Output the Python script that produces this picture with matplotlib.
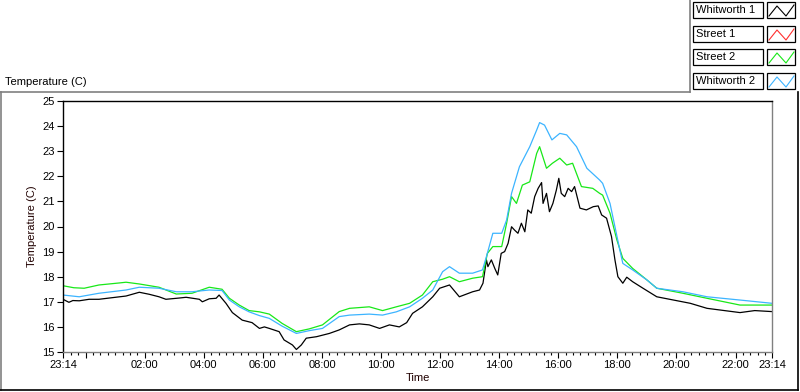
import matplotlib
matplotlib.use("Agg")
import matplotlib.pyplot as plt
from matplotlib.lines import Line2D
from matplotlib.patches import Rectangle

plt.rcParams['font.family'] = ['Liberation Sans', 'DejaVu Sans']

W, H = 800, 392

# ---- data: time in minutes after 23:14, temperature in C ----
green_t = [0, 22, 43, 73, 114, 128, 155, 195, 230, 262, 297, 323, 338, 358, 378, 399,
           419, 445, 474, 500, 527, 561, 582, 622, 649, 677, 704, 730, 751, 771, 785,
           805, 832, 852, 862, 873, 891, 901, 911, 921, 933, 948, 962, 968, 982, 994,
           1009, 1023, 1035, 1053, 1076, 1090, 1096, 1111, 1125, 1137, 1157, 1186, 1206,
           1259, 1308, 1375, 1440]
green_v = [17.64, 17.56, 17.54, 17.67, 17.75, 17.78, 17.71, 17.58, 17.31, 17.34, 17.58,
           17.5, 17.14, 16.87, 16.65, 16.6, 16.51, 16.14, 15.81, 15.92, 16.08, 16.61,
           16.74, 16.8, 16.65, 16.8, 16.94, 17.27, 17.8, 17.9, 18.0, 17.8, 17.94, 18.0,
           18.93, 19.2, 19.2, 20.13, 21.19, 20.92, 21.65, 21.78, 22.91, 23.18, 22.32,
           22.52, 22.72, 22.45, 22.52, 21.59, 21.52, 21.32, 21.25, 20.53, 19.46, 18.73,
           18.33, 17.87, 17.54, 17.34, 17.14, 16.87, 16.87]

blue_t = [0, 33, 73, 128, 155, 195, 230, 262, 297, 323, 338, 358, 378, 399, 419, 445,
          474, 500, 527, 561, 582, 622, 649, 677, 704, 730, 751, 771, 785, 805, 832, 852,
          860, 873, 891, 901, 911, 927, 948, 962, 968, 978, 993, 1009, 1023, 1043, 1064,
          1090, 1096, 1111, 1121, 1131, 1137, 1157, 1186, 1206, 1259, 1308, 1375, 1440]
blue_v = [17.27, 17.2, 17.34, 17.47, 17.58, 17.54, 17.4, 17.4, 17.47, 17.45, 17.07, 16.8,
          16.6, 16.45, 16.34, 16.03, 15.74, 15.85, 15.94, 16.41, 16.47, 16.51, 16.47,
          16.6, 16.8, 17.14, 17.47, 18.2, 18.4, 18.14, 18.14, 18.27, 18.8, 19.73, 19.73,
          20.26, 21.32, 22.38, 23.18, 23.84, 24.14, 24.04, 23.45, 23.71, 23.65, 23.18,
          22.32, 21.85, 21.72, 20.92, 19.99, 19.06, 18.53, 18.27, 17.87, 17.54, 17.4,
          17.2, 17.07, 16.94]

black_t = [0, 12, 20, 33, 53, 73, 94, 128, 155, 175,
           195, 209, 236, 250, 277, 283, 297, 311, 317, 331,
           344, 364, 384, 399, 409, 419, 439, 449, 466, 474,
           484, 494, 515, 541, 561, 582, 602, 622, 643, 663,
           683, 698, 710, 730, 751, 765, 785, 805, 832, 846,
           853, 860, 863, 870, 877, 883, 890, 897, 904, 911,
           917, 924, 931, 938, 944, 951, 958, 965, 972, 975,
           982, 988, 995, 1002, 1007, 1012, 1019, 1026, 1033, 1039,
           1050, 1063, 1077, 1087, 1094, 1104, 1114, 1121, 1127, 1137,
           1145, 1157, 1178, 1206, 1240, 1274, 1308, 1375, 1405, 1440]
black_v = [17.1, 16.98, 17.05, 17.04, 17.1, 17.1, 17.15, 17.23, 17.38, 17.3,
           17.2, 17.1, 17.15, 17.18, 17.1, 17.0, 17.12, 17.14, 17.27, 16.94,
           16.57, 16.27, 16.17, 15.94, 16.0, 15.94, 15.81, 15.48, 15.28, 15.1,
           15.28, 15.55, 15.61, 15.74, 15.88, 16.08, 16.12, 16.08, 15.94, 16.08,
           16.0, 16.17, 16.54, 16.8, 17.2, 17.54, 17.67, 17.2, 17.4, 17.47,
           17.74, 18.67, 18.4, 18.67, 18.33, 18.07, 18.93, 19.0, 19.33, 19.99,
           19.86, 19.73, 20.13, 19.79, 20.66, 20.53, 21.19, 21.52, 21.75, 20.92,
           21.32, 20.59, 20.92, 21.45, 21.92, 21.32, 21.19, 21.52, 21.39, 21.59,
           20.73, 20.66, 20.79, 20.82, 20.46, 20.33, 19.6, 18.67, 18.0, 17.74,
           17.98, 17.8, 17.54, 17.2, 17.07, 16.94, 16.74, 16.57, 16.65, 16.61]

series_names = ["Whitworth 1", "Street 1", "Street 2", "Whitworth 2"]
series_colors = ["#000000", "#ff3030", "#18e818", "#3cb4ff"]

yticks = [15, 16, 17, 18, 19, 20, 21, 22, 23, 24, 25]
xtick_pos = [0, 46, 166, 286, 406, 526, 646, 766, 886, 1006, 1126, 1246, 1366, 1440]
xtick_labels = ["23:14", "", "02:00", "04:00", "06:00", "08:00", "10:00", "12:00",
                "14:00", "16:00", "18:00", "20:00", "22:00", "23:14"]

fig = plt.figure(figsize=(W / 100, H / 100), dpi=100)


def fx(x):
    return x / W


def fy(y):
    return 1 - y / H


ax = fig.add_axes([fx(63), fy(352), fx(772) - fx(63), fy(101) - fy(352)])

ax.plot(black_t, black_v, color=series_colors[0], lw=0.9)
ax.plot(green_t, green_v, color=series_colors[2], lw=0.9)
ax.plot(blue_t, blue_v, color=series_colors[3], lw=0.9)

ax.set_xlim(0, 1440)
ax.set_ylim(15, 25)
ax.set_yticks(yticks)
ax.set_yticklabels([str(v) for v in yticks])
ax.set_xticks(xtick_pos)
ax.set_xticklabels(xtick_labels)
ax.set_xticks(list(range(16, 1440, 15)), minor=True)
ax.tick_params(axis='both', which='major', direction='out', length=4, width=0.8,
               labelsize=8, pad=2, colors='black')
ax.tick_params(axis='x', which='minor', direction='out', length=2.5, width=0.8)
ax.tick_params(axis='y', which='minor', left=False)

for s in ['left', 'top']:
    ax.spines[s].set_color('black')
    ax.spines[s].set_linewidth(1.0)
for s in ['right', 'bottom']:
    ax.spines[s].set_color('#808080')
    ax.spines[s].set_linewidth(1.0)

ax.set_ylabel("Temperature (C)", fontsize=8, color='#200000', labelpad=4)
ax.set_xlabel("Time", fontsize=8, color='#200000', labelpad=2)

# title
fig.text(fx(5), fy(82), "Temperature (C)", fontsize=8, ha='left', va='center')

# outer frame
fig.add_artist(Line2D([fx(0), fx(690)], [fy(92), fy(92)], color='#808080', lw=1.2))
fig.add_artist(Line2D([fx(1), fx(1)], [fy(92), fy(390)], color='#808080', lw=1.2))
fig.add_artist(Line2D([fx(0), fx(798)], [fy(390), fy(390)], color='black', lw=1.2))
fig.add_artist(Line2D([fx(798), fx(798)], [fy(390), fy(92)], color='black', lw=1.2))
fig.add_artist(Line2D([fx(690), fx(690)], [fy(92), fy(0)], color='#808080', lw=1.2))

# legend
rows_y = [10, 34, 57, 81]
for name, col, yc in zip(series_names, series_colors, rows_y):
    fig.add_artist(Rectangle((fx(693), fy(yc + 8)), fx(763) - fx(693), fy(yc - 8) - fy(yc + 8),
                             facecolor='white', edgecolor='black', lw=0.9))
    fig.text(fx(696), fy(yc), name, fontsize=8, ha='left', va='center')
    fig.add_artist(Rectangle((fx(767), fy(yc + 8)), fx(795) - fx(767), fy(yc - 8) - fy(yc + 8),
                             facecolor='white', edgecolor='black', lw=0.9))
    fig.add_artist(Line2D([fx(769), fx(777), fx(786), fx(794)],
                          [fy(yc + 6), fy(yc - 4), fy(yc + 6), fy(yc - 5)], color=col, lw=0.8))

fig.savefig("out.png", dpi=100)
